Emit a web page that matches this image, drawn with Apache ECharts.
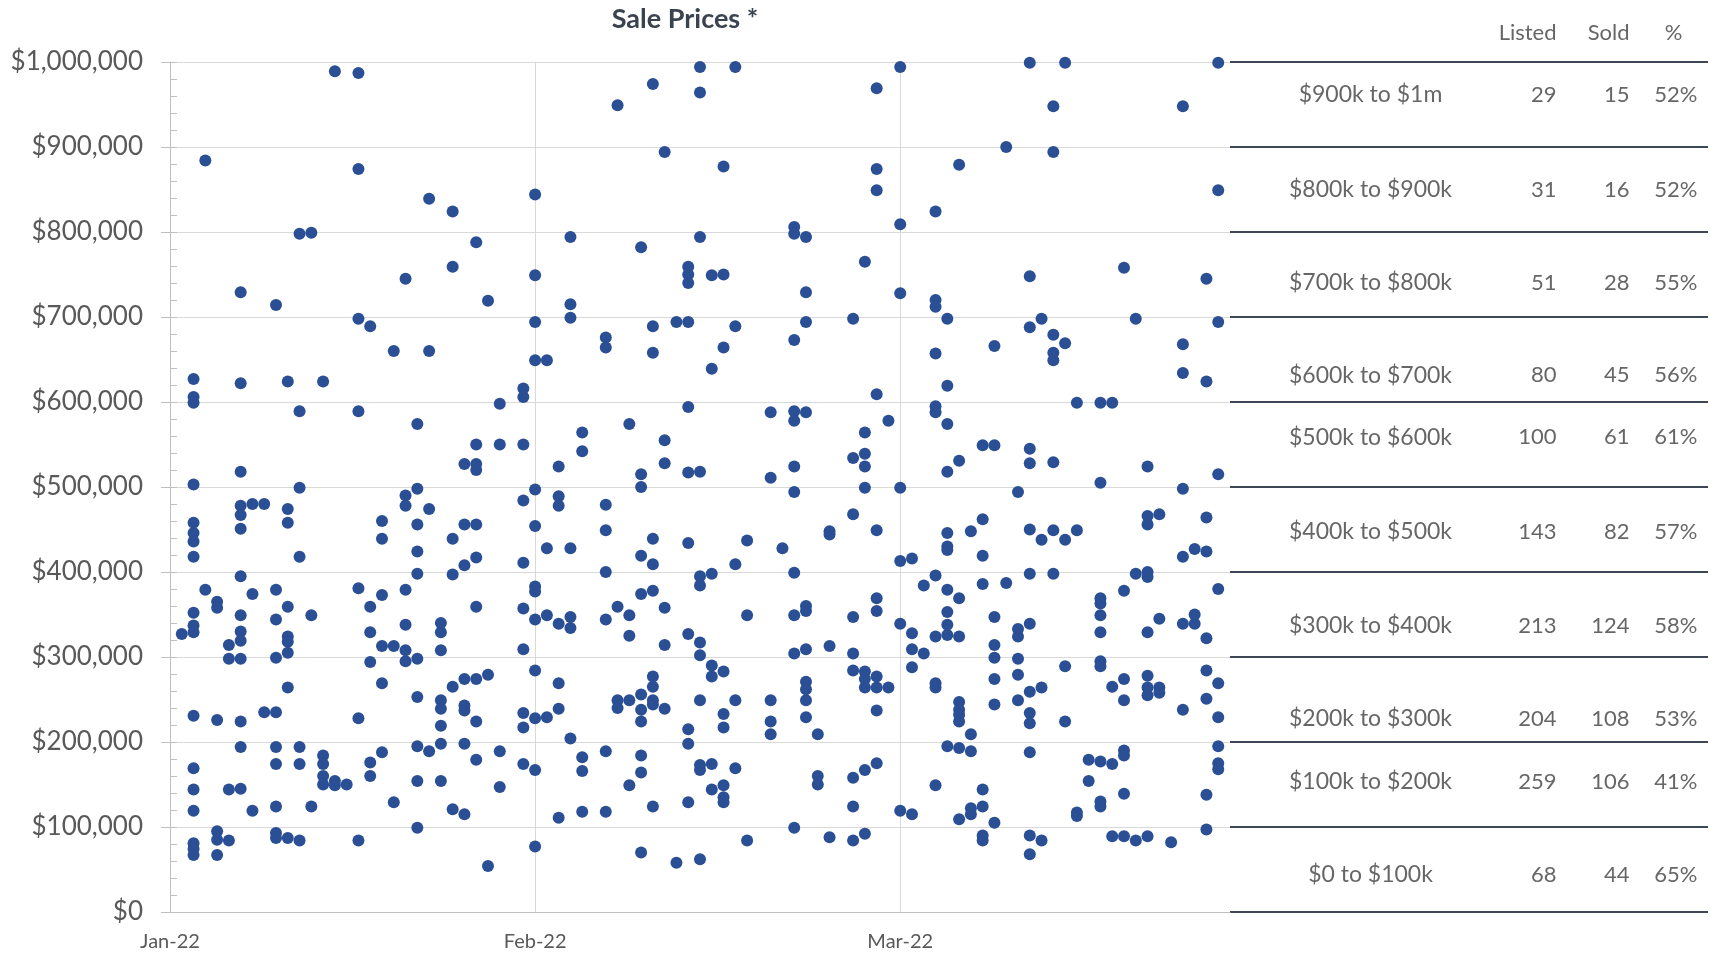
<!DOCTYPE html>
<html>
<head>
<meta charset="utf-8">
<title>Sale Prices</title>
<script src="https://cdn.jsdelivr.net/npm/echarts@6/dist/echarts.min.js"></script>
<style>
  html, body { margin: 0; padding: 0; background: #ffffff; }
  #chart { width: 1715px; height: 955px; }
</style>
</head>
<body>
<div id="chart"></div>
<script>
// Sale prices in $k, grouped by month: [day of month, [prices sold that day]]
const janSales = [
  [2, [327]],
  [3, [627, 606, 599, 503, 458, 446, 436, 418, 352, 337, 329, 231, 169, 144, 119, 81, 74, 67]],
  [4, [884, 379]],
  [5, [365, 358, 226, 95, 85, 67]],
  [6, [314, 298, 144, 84]],
  [7, [729, 622, 518, 478, 467, 451, 395, 349, 330, 319, 298, 224, 194, 145]],
  [8, [480, 374, 119]],
  [9, [480, 235]],
  [10, [714, 379, 344, 299, 235, 194, 174, 124, 93, 87]],
  [11, [624, 474, 458, 359, 324, 318, 305, 264, 87]],
  [12, [798, 589, 499, 418, 194, 174, 84]],
  [13, [799, 349, 124]],
  [14, [624, 184, 174, 160, 150]],
  [15, [989, 154, 149]],
  [16, [150]],
  [17, [987, 874, 698, 589, 381, 228, 84]],
  [18, [689, 359, 329, 294, 176, 160]],
  [19, [460, 439, 373, 313, 269, 188]],
  [20, [660, 313, 129]],
  [21, [745, 490, 478, 379, 338, 308, 295]],
  [22, [574, 498, 456, 424, 398, 298, 253, 195, 154, 99]],
  [23, [839, 660, 474, 189]],
  [24, [340, 329, 308, 249, 239, 219, 198, 154]],
  [25, [824, 759, 439, 397, 265, 121]],
  [26, [527, 456, 408, 274, 243, 237, 198, 115]],
  [27, [788, 550, 527, 520, 456, 417, 359, 274, 224, 179]],
  [28, [719, 279, 54]],
  [29, [598, 550, 189, 147]],
  [31, [616, 606, 550, 484, 411, 357, 309, 234, 217, 174]]
];

const febSales = [
  [1, [844, 749, 694, 649, 497, 454, 383, 377, 344, 284, 228, 167, 77]],
  [2, [649, 428, 349, 229]],
  [3, [524, 489, 478, 339, 269, 239, 111]],
  [4, [794, 715, 699, 428, 347, 334, 204]],
  [5, [564, 542, 182, 166, 118]],
  [7, [676, 664, 479, 449, 400, 344, 189, 118]],
  [8, [949, 359, 249, 240]],
  [9, [574, 349, 325, 249, 149]],
  [10, [782, 515, 500, 419, 374, 256, 238, 224, 184, 164, 70]],
  [11, [974, 689, 658, 439, 409, 378, 277, 265, 249, 244, 124]],
  [12, [894, 555, 528, 358, 314, 239]],
  [13, [694, 58]],
  [14, [759, 750, 740, 694, 594, 517, 434, 327, 215, 198, 129]],
  [15, [994, 964, 794, 518, 395, 384, 317, 302, 249, 173, 167, 62]],
  [16, [749, 639, 398, 290, 277, 174, 144]],
  [17, [877, 750, 664, 283, 233, 217, 149, 135, 129]],
  [18, [994, 689, 409, 249, 169]],
  [19, [437, 349, 84]],
  [21, [588, 511, 249, 224, 209]],
  [22, [428]],
  [23, [806, 798, 673, 589, 578, 524, 494, 399, 349, 304, 99]],
  [24, [794, 729, 694, 588, 360, 354, 309, 271, 262, 249, 229]],
  [25, [209, 160, 150]],
  [26, [448, 444, 313, 88]],
  [28, [698, 534, 468, 347, 304, 284, 158, 124, 84]]
];

const marSales = [
  [1, [765, 564, 539, 524, 499, 283, 274, 264, 167, 92]],
  [2, [969, 874, 849, 609, 449, 369, 354, 277, 264, 237, 175]],
  [3, [578, 264]],
  [4, [994, 809, 728, 499, 413, 339, 119]],
  [5, [416, 328, 309, 288, 115]],
  [6, [384, 304]],
  [7, [824, 720, 712, 657, 595, 588, 396, 324, 269, 264, 149]],
  [8, [698, 619, 574, 518, 446, 430, 426, 379, 353, 338, 326, 195]],
  [9, [879, 531, 369, 324, 247, 238, 232, 224, 193, 109]],
  [10, [448, 209, 189, 122, 115]],
  [11, [549, 462, 419, 386, 144, 124, 90, 84]],
  [12, [666, 549, 347, 314, 299, 274, 244, 105]],
  [13, [900, 387]],
  [14, [494, 333, 324, 298, 279, 249]],
  [15, [999, 748, 688, 545, 528, 450, 398, 339, 259, 234, 222, 188, 90, 68]],
  [16, [698, 438, 264, 84]],
  [17, [948, 894, 679, 658, 649, 529, 449, 398]],
  [18, [999, 669, 438, 289, 224]],
  [19, [599, 449, 117, 113]],
  [20, [179, 154]],
  [21, [599, 505, 369, 363, 349, 329, 295, 289, 177, 130, 124]],
  [22, [599, 265, 174, 89]],
  [23, [758, 378, 274, 249, 190, 184, 139, 89]],
  [24, [698, 398, 84]],
  [25, [524, 466, 456, 400, 394, 329, 278, 264, 255, 89]],
  [26, [468, 345, 264, 258]],
  [27, [82]],
  [28, [948, 668, 634, 498, 418, 339, 238]],
  [29, [427, 350, 339]],
  [30, [745, 624, 464, 424, 322, 284, 251, 138, 97]],
  [31, [999, 849, 694, 515, 380, 269, 229, 195, 175, 168]]
];

// Summary table, top band first
const priceBands = ['$900k to $1m', '$800k to $900k', '$700k to $800k', '$600k to $700k', '$500k to $600k',
                    '$400k to $500k', '$300k to $400k', '$200k to $300k', '$100k to $200k', '$0 to $100k'];
const listedCounts = [29, 31, 51, 80, 100, 143, 213, 204, 259, 68];
const soldCounts = [15, 16, 28, 45, 61, 82, 124, 108, 106, 44];
const tableHeaders = ['Listed', 'Sold', '%'];

// ---- layout ----
const FONT = 'Lato, "Open Sans", "DejaVu Sans", sans-serif';
const DOT = '#2B4F94';
const GRID_GRAY = '#D9D9D9';
const AXIS_GRAY = '#BFBFBF';
const LABEL_GRAY = '#595959';
const TABLE_TEXT = '#404040';
const RULE_COLOR = '#3E4756';
// Table rows sit in their own grid that shares the price scale; x runs 0..478 across the table.
const ROW_TEXT_Y = [961e3, 849e3, 740e3, 631e3, 558e3, 447e3, 336e3, 227e3, 153e3, 43e3];
const HEADER_Y = 1034e3;
const COL = { band: 141, listed: 327, sold: 400, pct: 468, pctHead: 444 };

const DAY_MS = 86400000;
const BASE = Date.UTC(2022, 0, 1);
const MONTHS = ['Jan', 'Feb', 'Mar', 'Apr', 'May', 'Jun', 'Jul', 'Aug', 'Sep', 'Oct', 'Nov', 'Dec'];

function toPoints(monthIndex, rows) {
  const pts = [];
  rows.forEach(([dom, prices]) => {
    const dayOffset = (Date.UTC(2022, monthIndex, dom) - BASE) / DAY_MS;
    prices.forEach(p => pts.push([dayOffset, p * 1000]));
  });
  return pts;
}

const salePoints = [].concat(toPoints(0, janSales), toPoints(1, febSales), toPoints(2, marSales));

function dayLabel(v) {
  if (v % 31 !== 0) return '';
  const d = new Date(BASE + v * DAY_MS);
  return MONTHS[d.getUTCMonth()] + '-' + String(d.getUTCFullYear()).slice(2);
}

function textSeries(items, align, fontSize) {
  return {
    type: 'scatter',
    xAxisIndex: 1,
    yAxisIndex: 2,
    symbolSize: 1,
    clip: false,
    silent: true,
    itemStyle: { color: 'rgba(0,0,0,0)' },
    data: items.map(it => ({ value: [it.x, it.y], name: it.text })),
    label: {
      show: true, position: [0, 0], align: align, verticalAlign: 'middle',
      formatter: '{b}', fontFamily: FONT, fontSize: fontSize, color: TABLE_TEXT
    },
    emphasis: { disabled: true }
  };
}

const bandItems = priceBands.map((t, i) => ({ x: COL.band, y: ROW_TEXT_Y[i], text: t }));
const listedItems = listedCounts.map((n, i) => ({ x: COL.listed, y: ROW_TEXT_Y[i], text: String(n) }));
const soldItems = soldCounts.map((n, i) => ({ x: COL.sold, y: ROW_TEXT_Y[i], text: String(n) }));
const pctItems = soldCounts.map((n, i) => ({ x: COL.pct, y: ROW_TEXT_Y[i], text: Math.round(100 * n / listedCounts[i]) + '%' }));
const headerRightItems = [
  { x: COL.listed, y: HEADER_Y, text: tableHeaders[0] },
  { x: COL.sold, y: HEADER_Y, text: tableHeaders[1] }
];
const headerCenterItems = [{ x: COL.pctHead, y: HEADER_Y, text: tableHeaders[2] }];

const chart = echarts.init(document.getElementById('chart'), null, { renderer: 'canvas' });

chart.setOption({
  animation: false,
  backgroundColor: '#ffffff',
  title: {
    text: 'Sale Prices *',
    left: 685,
    top: 6,
    padding: 0,
    textAlign: 'center',
    textStyle: { fontFamily: FONT, fontWeight: 'bold', fontSize: 27, color: '#3B4350' }
  },
  grid: [
    { left: 170, top: 62, width: 1060, height: 850 },
    { left: 1230, top: 62, width: 478, height: 850 }
  ],
  xAxis: [
    {
      gridIndex: 0, type: 'value', min: 0, max: 90, interval: 31,
      axisLine: { show: true, lineStyle: { color: AXIS_GRAY, width: 1 } },
      axisTick: { show: false },
      axisLabel: { formatter: dayLabel, fontFamily: FONT, fontSize: 20, color: LABEL_GRAY, margin: 20, showMaxLabel: false },
      splitLine: { show: true, showMaxLine: false, lineStyle: { color: GRID_GRAY, width: 1 } }
    },
    { gridIndex: 1, type: 'value', min: 0, max: 478, show: false }
  ],
  yAxis: [
    {
      gridIndex: 0, type: 'value', min: 0, max: 1000000, interval: 100000,
      axisLine: { show: true, lineStyle: { color: AXIS_GRAY, width: 1 } },
      axisTick: { show: true, length: 9, lineStyle: { color: AXIS_GRAY } },
      axisLabel: {
        formatter: v => '$' + v.toLocaleString('en-US'),
        fontFamily: FONT, fontSize: 26, color: LABEL_GRAY, margin: 27
      },
      splitLine: { show: true, lineStyle: { color: GRID_GRAY, width: 1 } }
    },
    {
      // 20k minor ticks drawn inward
      gridIndex: 0, type: 'value', min: 0, max: 1000000, interval: 20000, position: 'left',
      axisLine: { show: false },
      axisTick: { show: true, inside: true, length: 7, lineStyle: { color: AXIS_GRAY } },
      axisLabel: { show: false },
      splitLine: { show: false }
    },
    {
      // table rules, one per price band boundary
      gridIndex: 1, type: 'value', min: 0, max: 1000000, interval: 100000,
      axisLine: { show: false }, axisTick: { show: false }, axisLabel: { show: false },
      splitLine: { show: true, lineStyle: { color: RULE_COLOR, width: 2 } }
    }
  ],
  series: [
    {
      name: 'Sale price',
      type: 'scatter',
      xAxisIndex: 0,
      yAxisIndex: 0,
      symbol: 'circle',
      symbolSize: 12,
      itemStyle: { color: DOT, opacity: 1 },
      emphasis: { disabled: true },
      data: salePoints
    },
    textSeries(bandItems, 'center', 23),
    textSeries(listedItems, 'right', 22),
    textSeries(soldItems, 'right', 22),
    textSeries(pctItems, 'right', 22),
    textSeries(headerRightItems, 'right', 22),
    textSeries(headerCenterItems, 'center', 22)
  ]
});
</script>
</body>
</html>
